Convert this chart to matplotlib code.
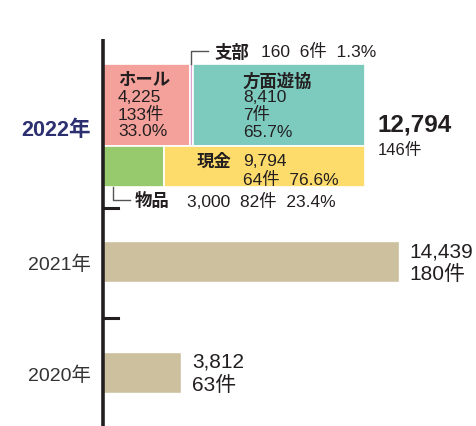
import matplotlib.pyplot as plt

plt.rcParams['font.family'] = ['Liberation Sans', 'Noto Sans CJK JP', 'DejaVu Sans']

# 2022 breakdown
upper_names = ["ホール", "支部", "方面遊協"]
upper_values = [4225, 160, 8410]
upper_counts = [133, 6, 7]
upper_pcts = [33.0, 1.3, 65.7]

lower_names = ["物品", "現金"]
lower_values = [3000, 9794]
lower_counts = [82, 64]
lower_pcts = [23.4, 76.6]

total_2022 = 12794
count_2022 = 146

# previous years
years = ["2022年", "2021年", "2020年"]
prev_values = [14439, 3812]
prev_counts = [180, 63]

upper_colors = ["#f4a19b", "#d8a3cc", "#7dcbbf"]
lower_colors = ["#97c96d", "#fedc6b"]
prev_color = "#cdc09e"
txt = "#231f20"

# layout (pixel-ish coordinates, y downward)
W, H = 477, 427
x0 = 103
scale = 262 / total_2022

fig = plt.figure(figsize=(W / 100, H / 100), dpi=100)
ax = fig.add_axes([0, 0, 1, 1])
ax.set_xlim(-x0 / scale, (W - x0) / scale)
ax.set_ylim(H, 0)
ax.axis("off")


def px(v):
    return v / scale


def lines(x, ys, texts, **kw):
    for y, t in zip(ys, texts):
        ax.text(x, y, t, va="center", color=txt, **kw)


# 2022 upper row
left = 0
upper_lefts = []
for v, c in zip(upper_values, upper_colors):
    ax.barh(106, v, left=left, height=82, color=c, edgecolor="white", linewidth=1.2)
    upper_lefts.append(left)
    left += v

# 2022 lower row
left = 0
lower_lefts = []
for v, c in zip(lower_values, lower_colors):
    ax.barh(167.5, v, left=left, height=41, color=c, edgecolor="white", linewidth=1.2)
    lower_lefts.append(left)
    left += v

# previous years
prev_y = [262.5, 373]
for v, y, n in zip(prev_values, prev_y, prev_counts):
    ax.barh(y, v, height=41, color=prev_color, edgecolor="white", linewidth=1)
    lines(v + px(11), [y - 11, y + 12], [f"{v:,}", f"{n}件"], fontsize=15)

# axis line and ticks
ax.plot([0, 0], [40, H], color="#231f20", lw=2.6, solid_capstyle="butt", zorder=5)
for ty in [209, 319]:
    ax.plot([0, px(15)], [ty, ty], color="#231f20", lw=2.2, zorder=5)

# year labels
ax.text(px(-12), 131, years[0], ha="right", va="center", fontsize=15.5, fontweight="bold",
        color="#2d3070")
for yl, y in zip(years[1:], [265, 376]):
    ax.text(px(-12), y, yl, ha="right", va="center", fontsize=14, color="#333333")

fs = 12.5
# ホール
hx = upper_lefts[0] + px(15)
lines(hx, [80], [upper_names[0]], fontsize=fs, fontweight="bold")
lines(hx, [97, 115, 132], [f"{upper_values[0]:,}", f"{upper_counts[0]}件",
                           f"{upper_pcts[0]:.1f}%"], fontsize=fs)

# 方面遊協
mx = upper_lefts[2] + px(50)
lines(mx, [81], [upper_names[2]], fontsize=fs, fontweight="bold")
lines(mx, [97, 115, 133], [f"{upper_values[2]:,}", f"{upper_counts[2]}件",
                           f"{upper_pcts[2]:.1f}%"], fontsize=fs)

# 支部 callout
sx = upper_lefts[1] + upper_values[1] / 2
ax.plot([sx, sx, sx + px(17)], [65, 52, 52], color="#555555", lw=1)
lines(sx + px(23), [52], [upper_names[1]], fontsize=fs, fontweight="bold")
lines(sx + px(70), [52], [f"{upper_values[1]}  {upper_counts[1]}件  {upper_pcts[1]:.1f}%"],
      fontsize=fs)

# 現金
gx = lower_lefts[1] + px(32)
lines(gx, [162], [lower_names[1]], fontsize=fs, fontweight="bold")
lines(gx + px(47), [162, 180], [f"{lower_values[1]:,}",
                                f"{lower_counts[1]}件  {lower_pcts[1]:.1f}%"], fontsize=fs)

# 物品 callout
bx = px(10)
ax.plot([bx, bx, bx + px(17)], [188, 201, 201], color="#555555", lw=1)
lines(bx + px(22), [201], [lower_names[0]], fontsize=fs, fontweight="bold")
lines(bx + px(74), [201], [f"{lower_values[0]:,}  {lower_counts[0]}件  {lower_pcts[0]:.1f}%"],
      fontsize=fs)

# 2022 total
lines(total_2022 + px(13), [125], [f"{total_2022:,}"], fontsize=17.5, fontweight="bold")
lines(total_2022 + px(13), [150], [f"{count_2022}件"], fontsize=12)

fig.savefig("out.png", dpi=100)
